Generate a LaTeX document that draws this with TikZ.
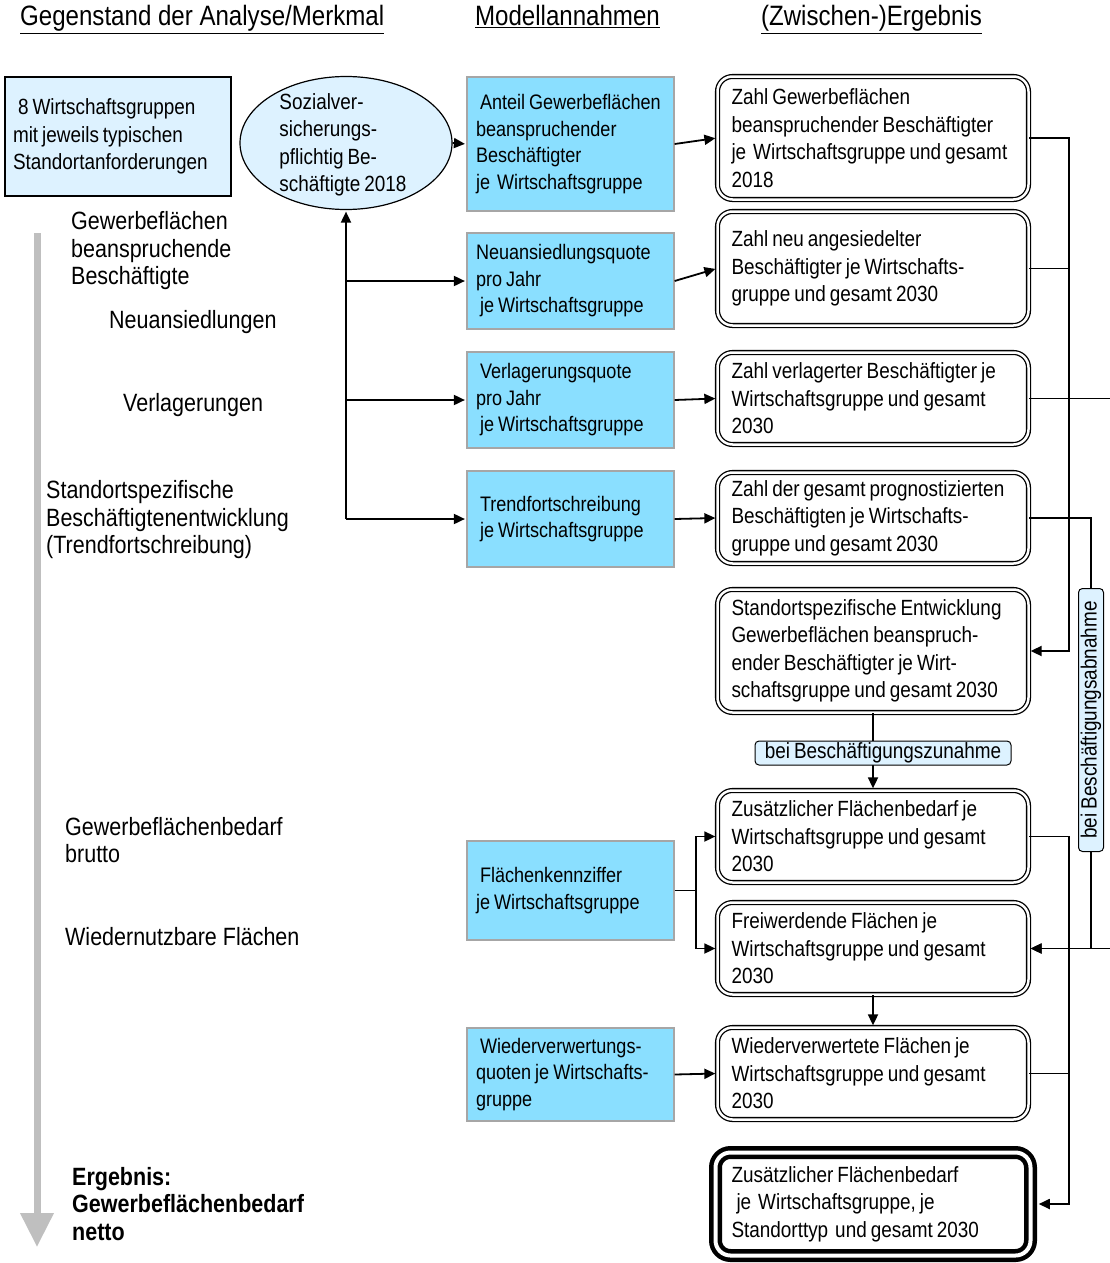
\documentclass[tikz,border=0pt]{standalone}
\usepackage{fontspec}
\setmainfont{Liberation Sans}[FakeStretch=0.86]
\usetikzlibrary{arrows.meta,shapes.geometric,positioning,calc}
\hyphenpenalty=10000
\exhyphenpenalty=10000
\newcommand\narrowgaps{\spaceskip=4pt plus 2pt minus 1pt\relax}

\definecolor{quotefill}{HTML}{8ADFFF}
\definecolor{palefill}{HTML}{DDF2FF}
\definecolor{rimgray}{HTML}{A6A6A6}

\tikzset{
  boxfont/.style={font=\fontsize{22}{27.5}\selectfont, execute at begin node=\narrowgaps},
  head/.style={font=\fontsize{28}{30}\selectfont, inner sep=0},
  sidelabel/.style={font=\fontsize{25}{27.5}\selectfont, align=left, anchor=west, inner sep=0},
  quote/.style={font=\fontsize{21}{26.5}\selectfont, execute at begin node=\narrowgaps, draw=rimgray, line width=1.2pt, fill=quotefill, minimum width=207, text width=189, inner xsep=9, align=left},
  result/.style={boxfont, draw, double, double distance=2.5pt, line width=1.3pt, rounded corners=15, minimum width=311, text width=283, inner xsep=14, align=left},
  tag/.style={boxfont, draw, fill=palefill, rounded corners=4, inner sep=1pt, line width=1pt},
  link/.style={line width=1.8pt},
  arr/.style={link, -{Triangle[length=11pt,width=10pt]}, shorten >=1.5pt}
}

\begin{document}
\begin{tikzpicture}[x=1pt,y=-1pt]
  \useasboundingbox (0,0) rectangle (1110,1263);
  % column headings
  \node[head, anchor=base west] (h1) at (20,26) {\underline{Gegenstand der Analyse/Merkmal}};
  \node[head, anchor=base] (h2) at (567.5,26) {\underline{Modellannahmen}};
  \node[head, anchor=base] (h3) at (871.5,26) {\underline{(Zwischen-)Ergebnis}};

  % progress arrow on the left
  \draw[line width=7pt, draw=black!25, -{Triangle[length=34pt,width=32pt]}] (37,233) -- (37,1247);

  % start: groups and employees
  \node[boxfont, draw, fill=palefill, line width=1.2pt, minimum width=226, minimum height=119,
        text width=210, inner xsep=8, align=left] (grp) at (118,136.5)
    {\hspace*{5pt}8 Wirtschaftsgruppen\\mit jeweils typischen\\Standortanforderungen};
  \node[ellipse, draw, fill=palefill, line width=1.2pt, minimum width=212, minimum height=133, inner sep=0] (ell) at (346,143) {};
  \node[boxfont, align=left, inner sep=0] (elltxt) at (343,145)
    {Sozialver-\\sicherungs-\\pflichtig Be-\\schäftigte 2018};

  % side labels
  \node[sidelabel] (lbl1) at (71,251) {Gewerbeflächen\\beanspruchende\\Beschäftigte};
  \node[sidelabel] (lbl2) at (109,322) {Neuansiedlungen};
  \node[sidelabel] (lbl3) at (123,405) {Verlagerungen};
  \node[sidelabel] (lbl4) at (46,520) {Standortspezifische\\Beschäftigtenentwicklung\\(Trendfortschreibung)};
  \node[sidelabel] (lbl5) at (65,840) {Gewerbeflächenbedarf\\brutto};
  \node[sidelabel] (lbl6) at (65,937) {Wiedernutzbare Flächen};
  \node[sidelabel, font=\fontsize{25}{27.5}\selectfont\bfseries] (lbl7) at (72,1204) {Ergebnis:\\Gewerbeflächenbedarf\\netto};

  % model assumptions
  \node[quote, minimum height=134] (b1) at (570.5,144) {\hspace*{4pt}Anteil Gewerbeflächen\\beanspruchender\\Beschäftigter\\je\hspace{7pt}Wirtschaftsgruppe};
  \node[quote, minimum height=96] (b2) at (570.5,281) {Neuansiedlungsquote\\pro Jahr\\\hspace*{4pt}je Wirtschaftsgruppe};
  \node[quote, minimum height=96] (b3) at (570.5,400) {\hspace*{4pt}Verlagerungsquote\\pro Jahr\\\hspace*{4pt}je Wirtschaftsgruppe};
  \node[quote, minimum height=96] (b4) at (570.5,519) {\hspace*{4pt}Trendfortschreibung\\\hspace*{4pt}je Wirtschaftsgruppe};
  \node[quote, minimum height=99] (b5) at (570.5,890.5) {\hspace*{4pt}Flächenkennziffer\\je Wirtschaftsgruppe};
  \node[quote, minimum height=93] (b6) at (570.5,1074.5) {\hspace*{4pt}Wiederverwertungs-\\quoten je Wirtschafts-\\gruppe};

  % intermediate results
  \node[result, minimum height=123] (r1) at (873,138) {Zahl Gewerbeflächen\\beanspruchender Beschäftigter\\je\hspace{7pt}Wirtschaftsgruppe und gesamt\\2018};
  \node[result, minimum height=114] (r2) at (873,268.5) {Zahl neu angesiedelter\\Beschäftigter je Wirtschafts-\\gruppe und gesamt 2030};
  \node[result, minimum height=92] (r3) at (873,398.5) {Zahl verlagerter Beschäftigter je\\Wirtschaftsgruppe und gesamt\\2030};
  \node[result, minimum height=91] (r4) at (873,518) {Zahl der gesamt prognostizierten\\Beschäftigten je Wirtschafts-\\gruppe und gesamt 2030};
  \node[result, minimum height=123] (r5) at (873,651) {Standortspezifische Entwicklung\\Gewerbeflächen beanspruch-\\ender Beschäftigter je Wirt-\\schaftsgruppe und gesamt 2030};
  \node[result, minimum height=92] (r6) at (873,836.5) {Zusätzlicher Flächenbedarf je\\Wirtschaftsgruppe und gesamt\\2030};
  \node[result, minimum height=92] (r7) at (873,948.5) {Freiwerdende Flächen je\\Wirtschaftsgruppe und gesamt\\2030};
  \node[result, minimum height=92] (r8) at (873,1073.5) {Wiederverwertete Flächen je\\Wirtschaftsgruppe und gesamt\\2030};
  \node[result, line width=4.5pt, double distance=4pt, minimum width=315, minimum height=103, inner xsep=10] (r9) at (873,1204)
    {Zusätzlicher Flächenbedarf\\\hspace*{5pt}je\hspace{7pt}Wirtschaftsgruppe, je\\Standorttyp\hspace{7pt}und gesamt 2030};

  % bus lines
  \coordinate (busL) at (1069,0);
  \coordinate (busR) at (1091,0);
  \coordinate (outR) at (1110,0);
  \coordinate (fork) at ($(b5.east)+(21,0)$);

  % connectors: inputs
  \draw[arr] (ell.east) -- (b1.west);
  \draw[arr] (ell.south |- b4.west) -- (ell.south);
  \draw[arr] (ell.south |- b2.west) -- (b2.west);
  \draw[arr] (ell.south |- b3.west) -- (b3.west);
  \draw[arr] (ell.south |- b4.west) -- (b4.west);
  \draw[arr] (b1.east) -- (r1.west);
  \draw[arr] (b2.east) -- (r2.west);
  \draw[arr] (b3.east) -- (r3.west);
  \draw[arr] (b4.east) -- (r4.west);
  \draw[link] (b5.east) -- (fork);
  \draw[arr] (fork) |- (r6.west);
  \draw[arr] (fork) |- (r7.west);
  \draw[arr] (b6.east) -- (r8.west);

  % connectors: results
  \draw[arr] (r1.east) -| (busL |- r5.east) -- (r5.east);
  \draw[link] (r2.east) -- (busL |- r2.east);
  \draw[link] (r3.east) -- (outR |- r3.east);
  \draw[arr] (r4.east) -| (busR |- r7.east) -- (r7.east);
  \draw[arr] (outR |- r7.east) -- (r7.east);
  \draw[arr, shorten >=6pt] (r6.east) -| (busL |- r9.east) -- (r9.east);
  \draw[link] (r8.east) -- (busL |- r8.east);
  \draw[arr] (r5.south) -- (r6.north);
  \draw[arr] (r7.south) -- (r8.north);

  % condition tags
  \node[tag, minimum width=256, minimum height=24] (zun) at (883,753) {bei Beschäftigungszunahme};
  \node[tag, rotate=90, minimum width=263, minimum height=25] (abn) at (busR |- 0,720) {bei Beschäftigungsabnahme};
\end{tikzpicture}
\end{document}
